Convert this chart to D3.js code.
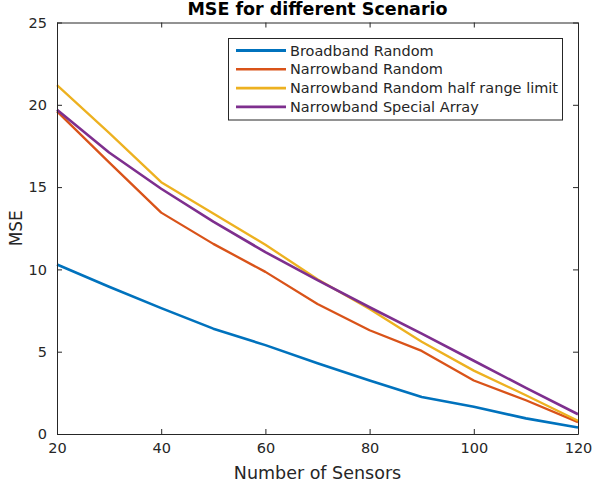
<!DOCTYPE html>
<html>
<head>
<meta charset="utf-8">
<script src="https://cdn.jsdelivr.net/npm/d3@7"></script>
<style>
  html, body { margin: 0; padding: 0; background: #fff; }
  svg { display: block; font-family: "DejaVu Sans", sans-serif; }
</style>
</head>
<body>
<svg id="chart" width="594" height="489"></svg>
<script>
// Number of sensors on the x axis
const sensors = [20, 30, 40, 50, 60, 70, 80, 90, 100, 110, 120];

// MSE per scenario
const broadbandRandom   = [10.3, 8.95, 7.65, 6.4, 5.4, 4.3, 3.25, 2.25, 1.65, 0.95, 0.4];
const narrowbandRandom  = [19.6, 16.5, 13.45, 11.55, 9.85, 7.9, 6.3, 5.05, 3.25, 2.05, 0.72];
const narrowbandHalf    = [21.2, 18.3, 15.3, 13.4, 11.5, 9.4, 7.6, 5.6, 3.85, 2.35, 0.8];
const narrowbandSpecial = [19.7, 17.1, 14.9, 12.9, 11.05, 9.35, 7.7, 6.1, 4.45, 2.8, 1.2];

const seriesNames = [
  "Broadband Random",
  "Narrowband Random",
  "Narrowband Random half range limit",
  "Narrowband Special Array"
];
const seriesValues = [broadbandRandom, narrowbandRandom, narrowbandHalf, narrowbandSpecial];
const seriesColors = ["#0072BD", "#D95319", "#EDB120", "#7E2F8E"];
const seriesWidths = [2.6, 2.3, 2.3, 2.6];

const xTicks = [20, 40, 60, 80, 100, 120];
const yTicks = [0, 5, 10, 15, 20, 25];

const svg = d3.select("#chart");
const plotLeft = 57, plotRight = 578, plotTop = 22.5, plotBottom = 434;
const axisColor = "#262626";

const x = d3.scaleLinear().domain([20, 120]).range([plotLeft, plotRight]);
const y = d3.scaleLinear().domain([0, 25]).range([plotBottom, plotTop]);

// Data lines
const line = d3.line().x((d, i) => x(sensors[i])).y(d => y(d));
const plot = svg.append("g");
seriesValues.forEach((vals, k) => {
  plot.append("path")
    .datum(vals)
    .attr("fill", "none")
    .attr("stroke", seriesColors[k])
    .attr("stroke-width", seriesWidths[k])
    .attr("stroke-linejoin", "round")
    .attr("d", line);
});

// Axes with inward ticks on all four sides (boxed axes)
function styleAxis(g) {
  g.selectAll(".domain").attr("stroke", axisColor).attr("stroke-width", 1);
  g.selectAll(".tick line").attr("stroke", axisColor).attr("stroke-width", 1);
  g.selectAll(".tick text").attr("fill", axisColor).style("font-size", "14.5px")
    .style("font-family", "DejaVu Sans, sans-serif");
}

svg.append("g")
  .attr("transform", `translate(0,${plotBottom})`)
  .call(d3.axisBottom(x).tickValues(xTicks).tickSizeInner(-5).tickSizeOuter(0).tickPadding(9))
  .call(styleAxis);

svg.append("g")
  .attr("transform", `translate(0,${plotTop})`)
  .call(d3.axisTop(x).tickValues(xTicks).tickSizeInner(-5).tickSizeOuter(0).tickFormat(""))
  .call(styleAxis);

svg.append("g")
  .attr("transform", `translate(${plotLeft},0)`)
  .call(d3.axisLeft(y).tickValues(yTicks).tickSizeInner(-5).tickSizeOuter(0).tickPadding(10))
  .call(styleAxis);

svg.append("g")
  .attr("transform", `translate(${plotRight},0)`)
  .call(d3.axisRight(y).tickValues(yTicks).tickSizeInner(-5).tickSizeOuter(0).tickFormat(""))
  .call(styleAxis);

// Title and axis labels
svg.append("text")
  .attr("x", (plotLeft + plotRight) / 2).attr("y", 15)
  .attr("text-anchor", "middle")
  .attr("fill", "#000")
  .style("font-size", "17.5px").style("font-weight", "bold")
  .text("MSE for different Scenario");

svg.append("text")
  .attr("x", (plotLeft + plotRight) / 2).attr("y", 479)
  .attr("text-anchor", "middle")
  .attr("fill", axisColor)
  .style("font-size", "17.5px")
  .text("Number of Sensors");

svg.append("text")
  .attr("transform", `translate(22,${(plotTop + plotBottom) / 2}) rotate(-90)`)
  .attr("text-anchor", "middle")
  .attr("fill", axisColor)
  .style("font-size", "17px")
  .text("MSE");

// Legend
const lg = svg.append("g");
lg.append("rect")
  .attr("x", 228.5).attr("y", 38.5)
  .attr("width", 334).attr("height", 81.5)
  .attr("fill", "#fff")
  .attr("stroke", axisColor).attr("stroke-width", 1);

const rowY = [50.5, 69.3, 88.1, 106.9];
seriesNames.forEach((name, k) => {
  lg.append("line")
    .attr("x1", 236).attr("x2", 286)
    .attr("y1", rowY[k]).attr("y2", rowY[k])
    .attr("stroke", seriesColors[k])
    .attr("stroke-width", seriesWidths[k] + 0.3);
  lg.append("text")
    .attr("x", 290).attr("y", rowY[k])
    .attr("dy", "0.35em")
    .attr("fill", axisColor)
    .style("font-size", "14.5px")
    .text(name);
});
</script>
</body>
</html>
